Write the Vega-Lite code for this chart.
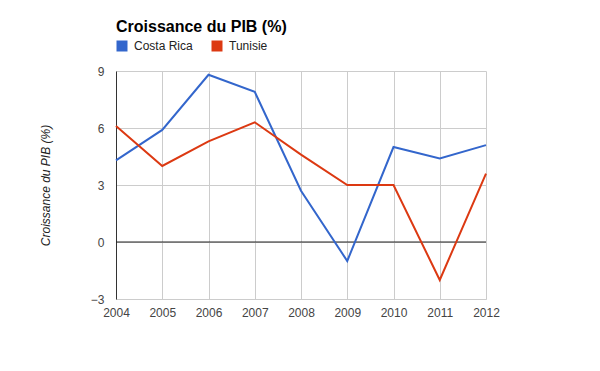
{
  "$schema": "https://vega.github.io/schema/vega-lite/v6.json",
  "width": 370,
  "height": 228,
  "autosize": {"type": "none"},
  "padding": {"left": 116, "top": 71, "right": 114, "bottom": 72},
  "background": "white",
  "title": {
    "text": "Croissance du PIB (%)",
    "anchor": "start",
    "frame": "group",
    "font": "Liberation Sans",
    "fontSize": 16,
    "fontWeight": "bold",
    "color": "#000000",
    "offset": 5
  },
  "config": {
    "view": {"stroke": null},
    "axis": {
      "labelFont": "Liberation Sans",
      "labelFontSize": 12,
      "labelColor": "#444444",
      "titleFont": "Liberation Sans",
      "gridColor": "#cccccc",
      "gridOpacity": 1,
      "ticks": false,
      "domainColor": "#333333",
      "labelFlush": false,
      "labelBound": false
    }
  },
  "data": {
    "values": [
      {"year": 2004, "country": "Costa Rica", "growth": 4.3},
      {"year": 2005, "country": "Costa Rica", "growth": 5.9},
      {"year": 2006, "country": "Costa Rica", "growth": 8.8},
      {"year": 2007, "country": "Costa Rica", "growth": 7.9},
      {"year": 2008, "country": "Costa Rica", "growth": 2.7},
      {"year": 2009, "country": "Costa Rica", "growth": -1.0},
      {"year": 2010, "country": "Costa Rica", "growth": 5.0},
      {"year": 2011, "country": "Costa Rica", "growth": 4.4},
      {"year": 2012, "country": "Costa Rica", "growth": 5.1},
      {"year": 2004, "country": "Tunisie", "growth": 6.1},
      {"year": 2005, "country": "Tunisie", "growth": 4.0},
      {"year": 2006, "country": "Tunisie", "growth": 5.3},
      {"year": 2007, "country": "Tunisie", "growth": 6.3},
      {"year": 2008, "country": "Tunisie", "growth": 4.6},
      {"year": 2009, "country": "Tunisie", "growth": 3.0},
      {"year": 2010, "country": "Tunisie", "growth": 3.0},
      {"year": 2011, "country": "Tunisie", "growth": -2.0},
      {"year": 2012, "country": "Tunisie", "growth": 3.6}
    ]
  },
  "layer": [
    {
      "mark": {"type": "rule", "color": "#222222", "strokeWidth": 1},
      "data": {"values": [{"zero": 0}]},
      "encoding": {
        "y": {"field": "zero", "type": "quantitative", "scale": {"domain": [-3, 9]}}
      }
    },
    {
      "mark": {"type": "line", "strokeWidth": 2},
      "encoding": {
        "x": {
          "field": "year",
          "type": "quantitative",
          "scale": {"domain": [2004, 2012], "nice": false, "zero": false},
          "axis": {
            "title": null,
            "values": [2004, 2005, 2006, 2007, 2008, 2009, 2010, 2011, 2012],
            "format": "d",
            "labelPadding": 8,
            "grid": true,
            "domainColor": "#cccccc"
          }
        },
        "y": {
          "field": "growth",
          "type": "quantitative",
          "scale": {"domain": [-3, 9], "nice": false},
          "axis": {
            "title": "Croissance du PIB (%)",
            "titleFont": "Liberation Sans",
            "titleFontSize": 12,
            "titleFontStyle": "italic",
            "titleFontWeight": "normal",
            "titleColor": "#222222",
            "titlePadding": 38,
            "values": [-3, 0, 3, 6, 9],
            "labelPadding": 12,
            "grid": true
          }
        },
        "color": {
          "field": "country",
          "type": "nominal",
          "scale": {"domain": ["Costa Rica", "Tunisie"], "range": ["#3366cc", "#dc3912"]},
          "legend": {
            "title": null,
            "orient": "none",
            "legendX": 0,
            "legendY": -31,
            "direction": "horizontal",
            "symbolType": "square",
            "symbolSize": 121,
            "symbolStrokeWidth": 0,
            "symbolOpacity": 1,
            "labelFont": "Liberation Sans",
            "labelFontSize": 12,
            "labelColor": "#222222",
            "columnPadding": 18,
            "labelOffset": 6,
            "encode": {
              "symbols": {
                "update": {
                  "fill": {"scale": "color", "field": "value"},
                  "fillOpacity": {"value": 1}
                }
              }
            }
          }
        }
      }
    }
  ]
}
